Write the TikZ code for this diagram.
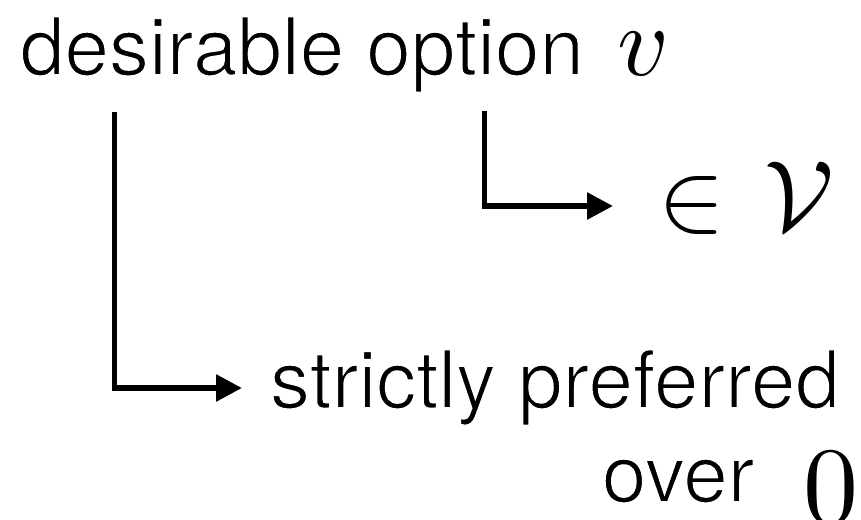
\documentclass[tikz,border=0pt]{standalone}
\usepackage{fix-cm}
\usepackage[no-math]{fontspec}
\setmainfont{TeX Gyre Heros}
\DeclareFontShape{OT1}{cmr}{m}{n}{<->cmr10}{}
\DeclareFontShape{OML}{cmm}{m}{it}{<->cmmi10}{}
\DeclareFontShape{OMS}{cmsy}{m}{n}{<->cmsy10}{}
\usetikzlibrary{arrows.meta}
\newcommand{\thintext}[1]{\special{pdf:literal direct 1 1 1 RG 1.6 w 2 Tr}#1\special{pdf:literal direct 0 Tr 0 0 0 RG}}
\tikzset{
  lbl/.style={inner sep=0pt, outer sep=0pt, anchor=base west, font=\fontsize{80}{96}\selectfont},
  mlbl/.style={inner sep=0pt, outer sep=0pt, anchor=base west, font=\fontsize{100}{120}\selectfont},
  conn/.style={line width=5.8pt, -{Triangle[length=26pt,width=26pt]}}
}
\begin{document}
\begin{tikzpicture}[x=1pt,y=-1pt]
\useasboundingbox (0,0) rectangle (861,519);
\node[inner sep=0pt, outer sep=0pt, anchor=base west, font=\fontsize{110}{130}\selectfont] (zero) at (803,523) {$0$};
\node[mlbl] (v) at (617,75) {$v$};
\node[mlbl] (in) at (658,230) {$\in$};
\node[mlbl] (calV) at (764,230) {$\mathcal{V}$};
\coordinate (s1) at (114.5,112);
\coordinate (e1) at (242,388);
\coordinate (s2) at (484.5,111);
\coordinate (e2) at (613,206);
\draw[conn] (s1) |- (e1);
\draw[conn] (s2) |- (e2);
\node[lbl] (t1) at (20,75) {\thintext{desirable option}};
\node[lbl] (sp) at (270,408) {\thintext{strictly preferred}};
\node[lbl] (ov) at (602,502) {\thintext{over}};
\end{tikzpicture}
\end{document}
